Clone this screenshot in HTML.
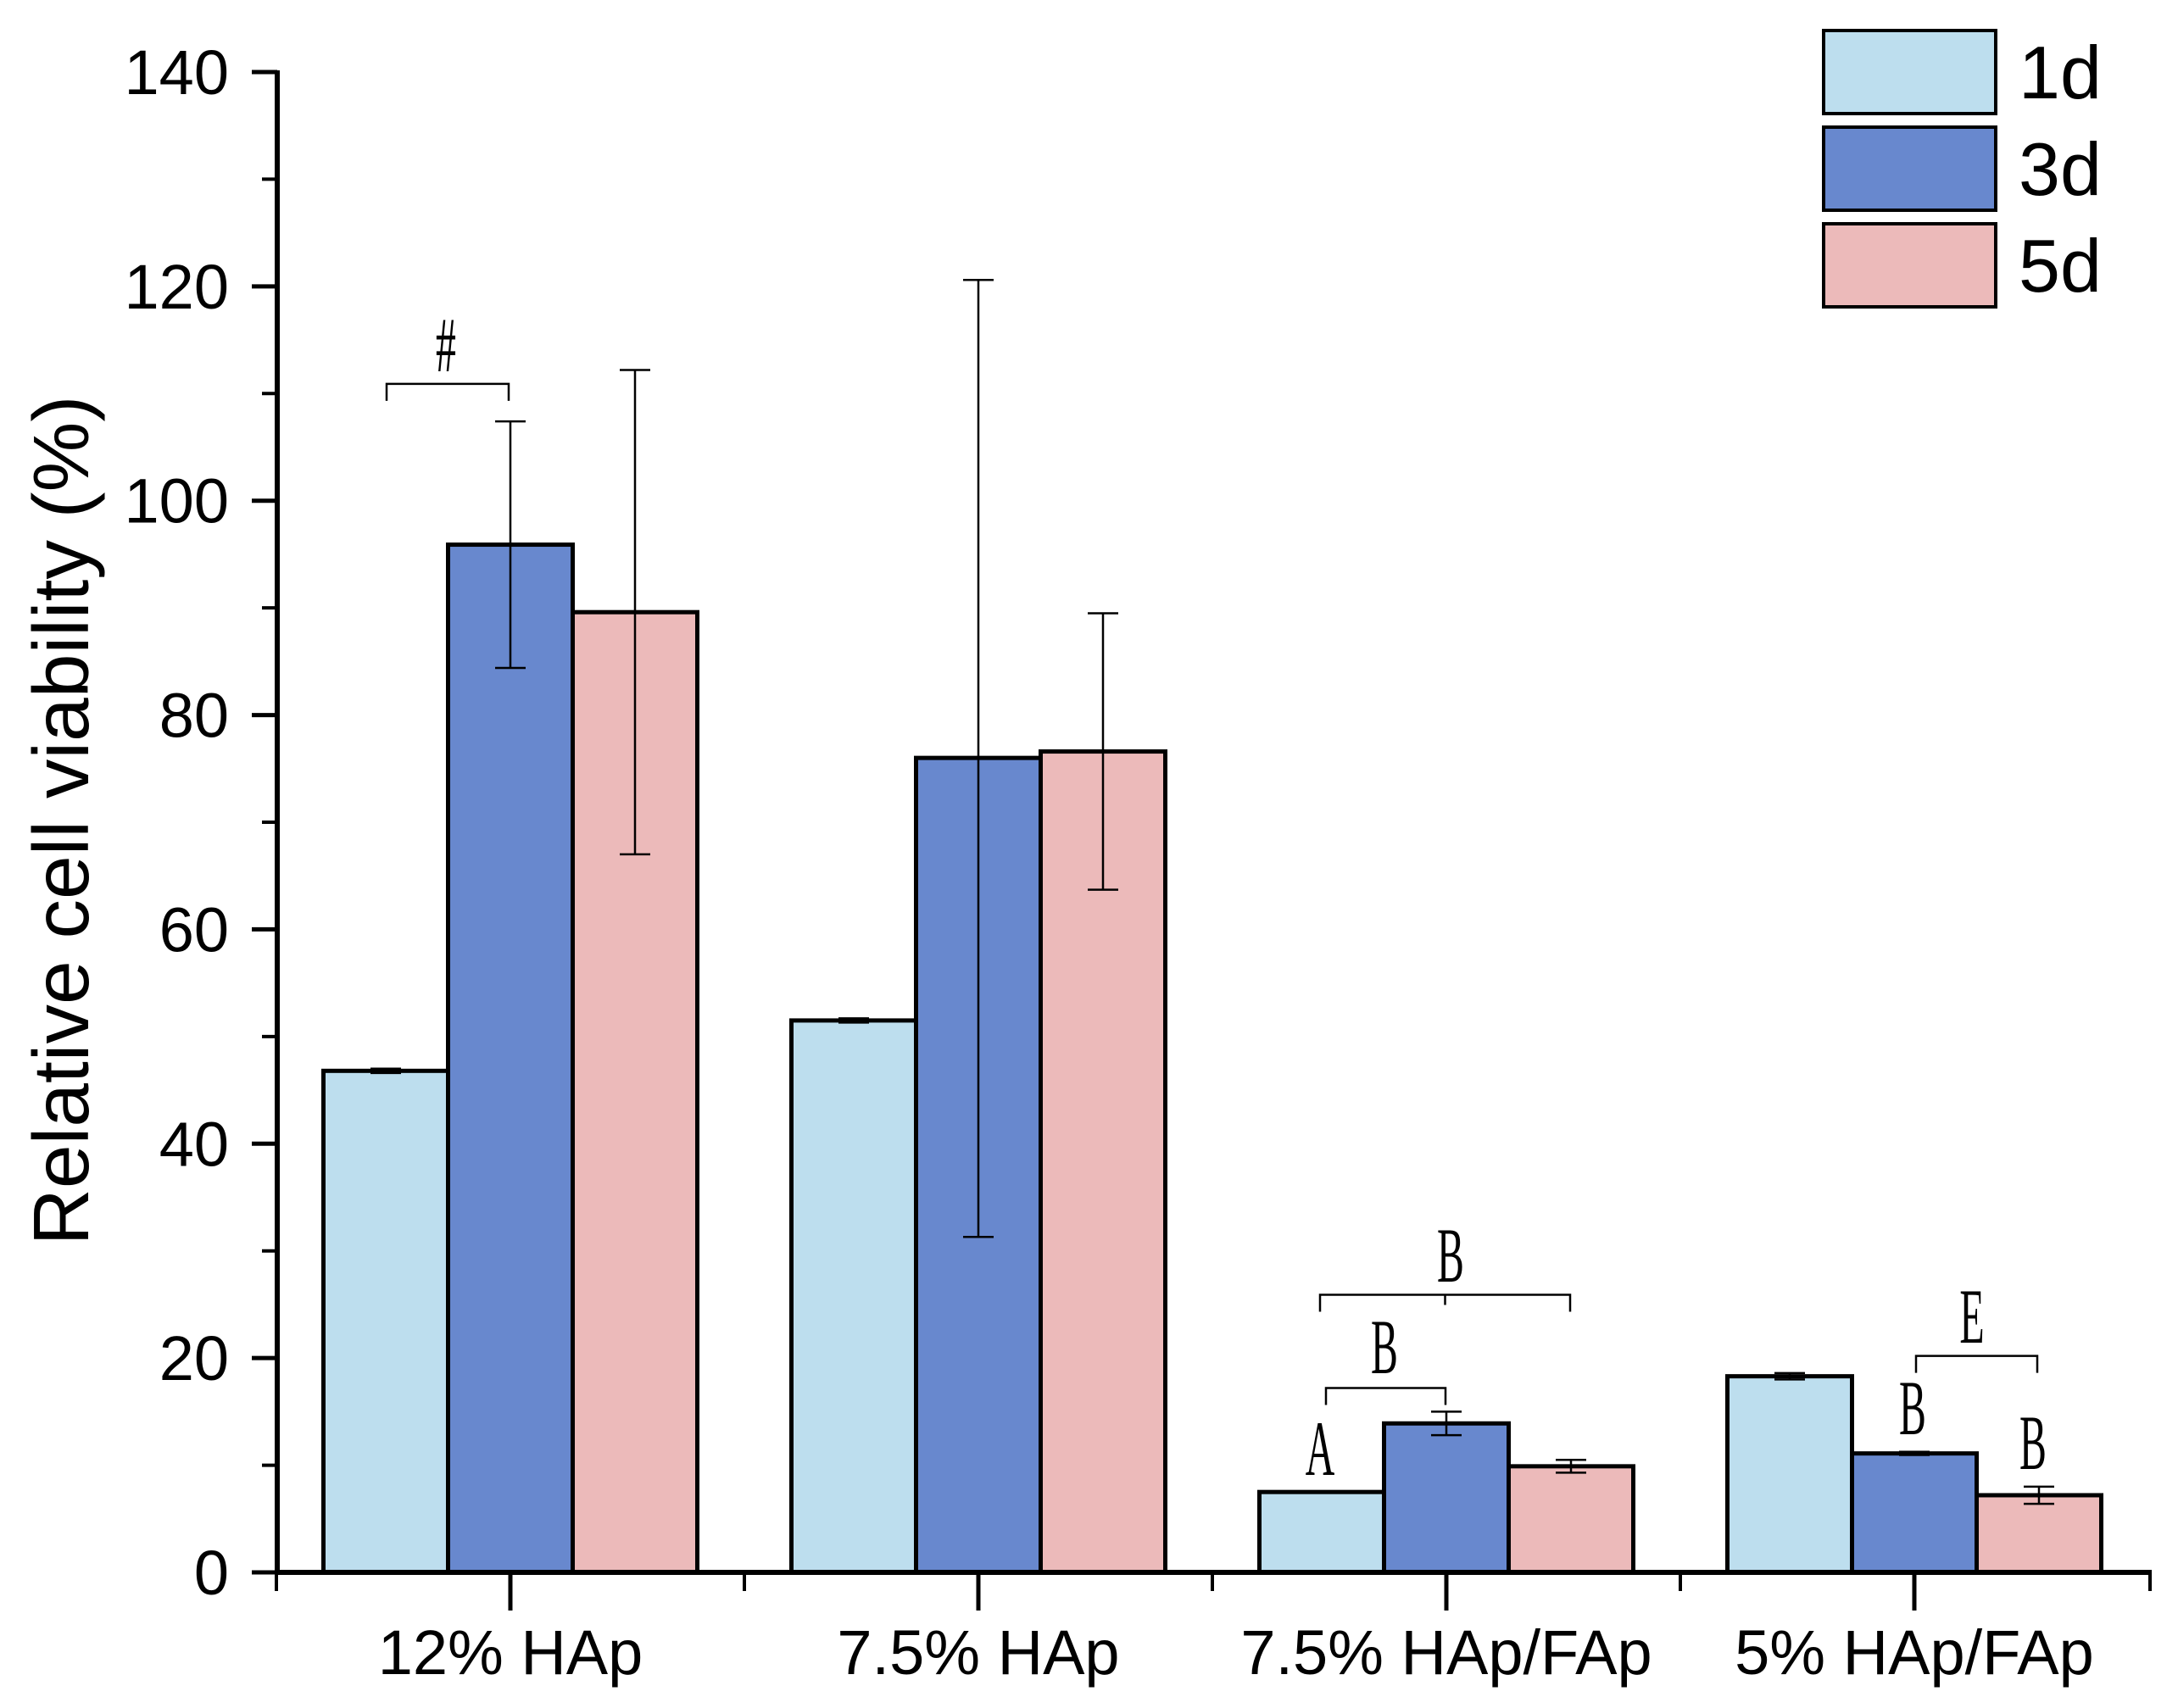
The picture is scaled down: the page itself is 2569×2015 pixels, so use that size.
<!DOCTYPE html>
<html><head><meta charset="utf-8"><style>html,body{margin:0;padding:0;background:#fff}svg{display:block}</style></head>
<body>
<svg id="chart" width="2569" height="2015" viewBox="0 0 2569 2015" xmlns="http://www.w3.org/2000/svg" font-family="'Liberation Sans', sans-serif">
<g id="bars"></g>
<g id="errs"></g>
<g id="axes"></g>
<g id="ann"></g>
<g id="legend"></g>
</svg>
<script>
const categories = ["12% HAp", "7.5% HAp", "7.5% HAp/FAp", "5% HAp/FAp"];
const seriesNames = ["1d", "3d", "5d"];
const v1d = [46.8, 51.5, 7.5, 18.3];
const v3d = [95.9, 76.0, 13.9, 11.1];
const v5d = [89.6, 76.6, 9.9, 7.2];
const lo1d = [46.6, 51.3, 7.5, 18.0];
const hi1d = [47.0, 51.7, 7.5, 18.6];
const lo3d = [84.4, 31.3, 12.8, 10.95];
const hi3d = [107.4, 120.6, 15.0, 11.25];
const lo5d = [67.0, 63.7, 9.3, 6.4];
const hi5d = [112.2, 89.5, 10.5, 8.0];
const yTicks = [0, 20, 40, 60, 80, 100, 120, 140];
const colors = ["#bddeee", "#6888ce", "#ecbaba"];

const NS = "http://www.w3.org/2000/svg";
const X0 = 327, Y0 = 1855, YMAX = 140, PLOT_H = 1770;
const groupW = 552, barW = 147, firstCenter = 602;
const y = v => Y0 - v / YMAX * PLOT_H;
const xc = i => firstCenter + i * groupW;
const xb = (i, s) => xc(i) - 1.5 * barW + s * barW;
function mk(tag, attrs, parent, text) {
  const e = document.createElementNS(NS, tag);
  for (const k in attrs) e.setAttribute(k, attrs[k]);
  if (text !== undefined) e.textContent = text;
  document.getElementById(parent).appendChild(e);
  return e;
}
const vals = [v1d, v3d, v5d], los = [lo1d, lo3d, lo5d], his = [hi1d, hi3d, hi5d];
categories.forEach((c, i) => {
  vals.forEach((arr, s) => {
    const r = mk("rect", {x: xb(i, s), y: y(arr[i]), width: barW, height: Y0 - y(arr[i]), fill: colors[s], stroke: "#000", "stroke-width": 5}, "bars");
    
    
  });
});
categories.forEach((c, i) => {
  vals.forEach((arr, s) => {
    const cx = xb(i, s) + barW / 2;
    const g = mk("g", {stroke: "#000", "stroke-width": 2.5}, "errs");
    
    
    const a = y(los[s][i]), b = y(his[s][i]);
    [{x1: cx, x2: cx, y1: a, y2: b}, {x1: cx - 18, x2: cx + 18, y1: a, y2: a}, {x1: cx - 18, x2: cx + 18, y1: b, y2: b}].forEach(at => {
      const l = document.createElementNS(NS, "line");
      for (const k in at) l.setAttribute(k, at[k]);
      g.appendChild(l);
    });
  });
});
// axes
mk("line", {x1: X0, x2: X0, y1: y(140) - 2, y2: Y0 + 3, stroke: "#000", "stroke-width": 6}, "axes");
mk("line", {x1: X0 - 3, x2: 2538, y1: Y0, y2: Y0, stroke: "#000", "stroke-width": 6}, "axes");
yTicks.forEach(t => {
  mk("line", {x1: X0 - 30, x2: X0, y1: y(t), y2: y(t), stroke: "#000", "stroke-width": 5}, "axes");
  if (t < 140) mk("line", {x1: X0 - 18, x2: X0, y1: y(t + 10), y2: y(t + 10), stroke: "#000", "stroke-width": 4}, "axes");
  const l = mk("text", {x: 270, y: y(t) + 26, "text-anchor": "end", "font-size": 74}, "axes", String(t));
  
  
});
categories.forEach((c, i) => {
  mk("line", {x1: xc(i), x2: xc(i), y1: Y0, y2: Y0 + 45, stroke: "#000", "stroke-width": 5}, "axes");
  mk("line", {x1: xc(i) - groupW / 2, x2: xc(i) - groupW / 2, y1: Y0, y2: Y0 + 22, stroke: "#000", "stroke-width": 4}, "axes");
  const l = mk("text", {x: xc(i), y: 1975, "text-anchor": "middle", "font-size": 74}, "axes", c);
  
  
});
mk("line", {x1: 2536, x2: 2536, y1: Y0, y2: Y0 + 22, stroke: "#000", "stroke-width": 4}, "axes");
const yt = mk("text", {x: 0, y: 0, transform: "translate(104,968) rotate(-90)", "text-anchor": "middle", "font-size": 93}, "axes", "Relative cell viability (%)");


// annotations
function bracket(x1, x2, v, mid) {
  const yy = y(v);
  let d = `M${x1},${yy + 20} L${x1},${yy} L${x2},${yy} L${x2},${yy + 20}`;
  if (mid) d += ` M${(x1 + x2) / 2},${yy} L${(x1 + x2) / 2},${yy + 12}`;
  const p = mk("path", {d: d, fill: "none", stroke: "#000", "stroke-width": 2.5}, "ann");
  
  
}
function letter(x, yy, t) {
  const e = mk("text", {x: 0, y: 0, transform: `translate(${x},${yy}) scale(0.52,1)`, "text-anchor": "middle", "font-size": 92, "font-family": "'Liberation Serif', serif"}, "ann", t);
  
  
}
bracket(456, 600, 110.9, false); letter(526, 438, "#");
bracket(1557, 1852, 25.9, true); letter(1711, 1512, "B");
bracket(1564, 1705, 17.2, false); letter(1633, 1620, "B");
letter(1557, 1740, "A");
bracket(2260, 2403, 20.2, false); letter(2326, 1584, "E");
letter(2256, 1692, "B"); letter(2398, 1733, "B");
// legend
seriesNames.forEach((n, s) => {
  const r = mk("rect", {x: 2151, y: 36 + s * 114, width: 203, height: 98, fill: colors[s], stroke: "#000", "stroke-width": 4}, "legend");
  
  
  const t = mk("text", {x: 2381, y: 116 + s * 114, "font-size": 88}, "legend", n);
  
  
});
</script>
</body></html>
